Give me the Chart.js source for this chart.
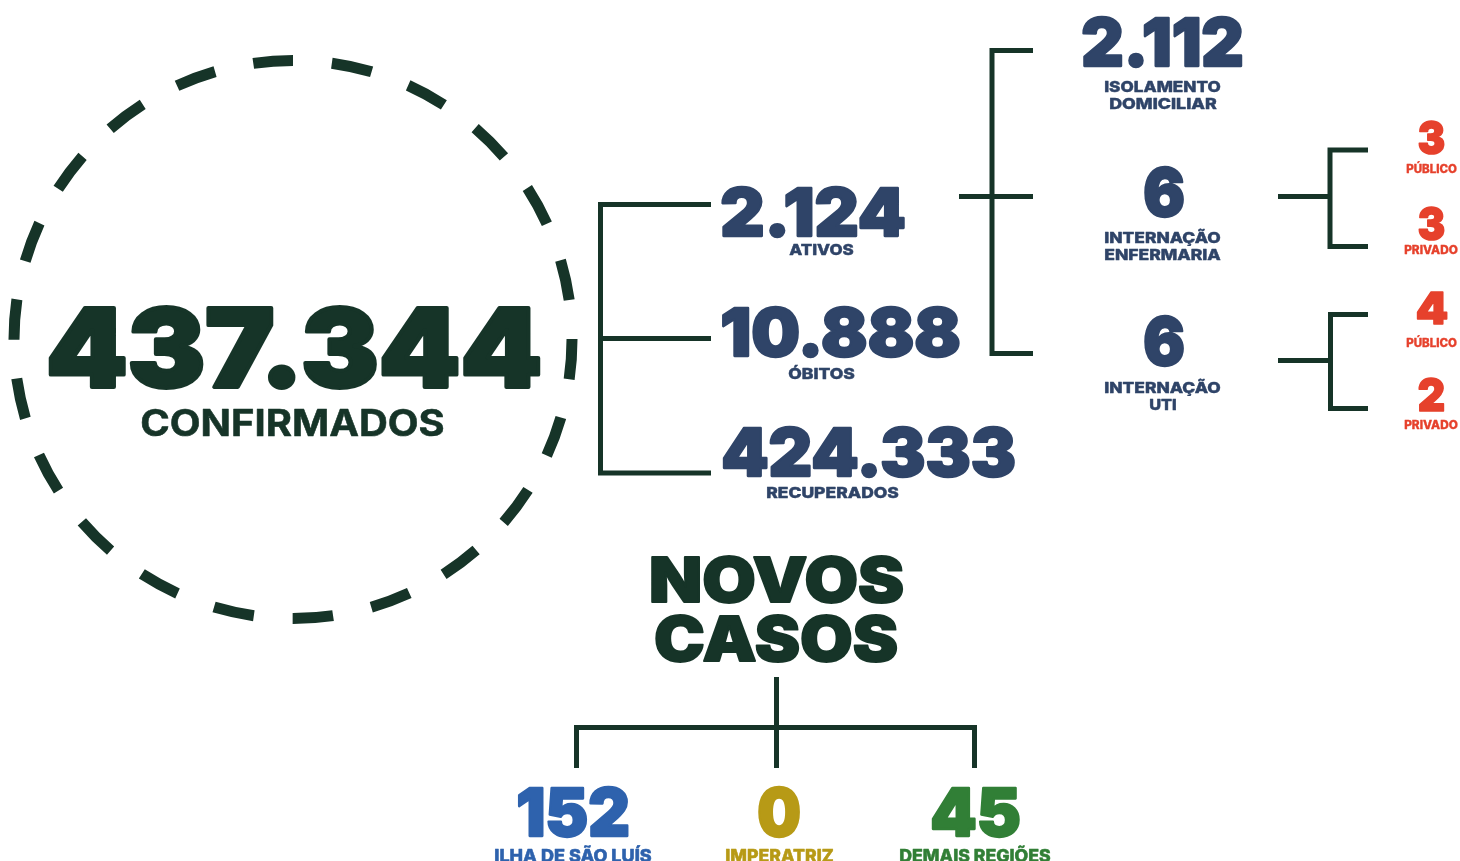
<!DOCTYPE html>
<html lang="pt-BR">
<head>
<meta charset="UTF-8">
<title>Boletim COVID-19</title>
<script src="https://cdn.jsdelivr.net/npm/chart.js"></script>
<style>
  html, body { margin: 0; padding: 0; background: #fff; }
  #wrap { width: 1460px; height: 861px; }
</style>
</head>
<body>
<div id="wrap"><canvas id="boletim" width="1460" height="861"></canvas></div>
<script>
// dados do boletim
const confirmadosLabel = 'CONFIRMADOS';
const confirmadosValue = 437344;

const statusLabels = ['ATIVOS', 'ÓBITOS', 'RECUPERADOS'];
const statusValues = [2124, 10888, 424333];

const ativosLabels = [['ISOLAMENTO', 'DOMICILIAR'], ['INTERNAÇÃO', 'ENFERMARIA'], ['INTERNAÇÃO', 'UTI']];
const ativosValues = [2112, 6, 6];

const leitosLabels = ['PÚBLICO', 'PRIVADO', 'PÚBLICO', 'PRIVADO'];
const leitosValues = [3, 3, 4, 2];

const novosTitle = ['NOVOS', 'CASOS'];
const novosLabels = ['ILHA DE SÃO LUÍS', 'IMPERATRIZ', 'DEMAIS REGIÕES'];
const novosValues = [152, 0, 45];

// layout: [centro x, linha de base y, altura das maiúsculas, largura]
const confLayout = { num: [294, 389, 83, 500], label: [292.5, 436, 27, 305] };
const statusLayout = [
  { num: [813, 237, 50, 188], label: [821.5, 255, 11, 65] },
  { num: [840.5, 357, 51, 243], label: [821.5, 379, 11, 67] },
  { num: [868.5, 477, 50, 297], label: [832.5, 498, 11, 133] }
];
const ativosLayout = [
  { num: [1162.5, 67, 51, 165], lines: [[1162.5, 92, 11, 117], [1163, 109, 11, 108]] },
  { num: [1164, 217, 51, 44], lines: [[1162.5, 243, 11, 117], [1162.5, 260, 11, 117]] },
  { num: [1164, 366, 51, 44], lines: [[1162.5, 393, 11, 117], [1163, 410, 11, 28]] }
];
const leitosLayout = [
  { num: [1431.5, 155, 35, 29], label: [1431.5, 173, 8.5, 51] },
  { num: [1431.5, 241, 35, 29], label: [1431, 254, 8.5, 54] },
  { num: [1432, 325, 34, 34], label: [1431.5, 347, 8.5, 51] },
  { num: [1431.5, 412, 35, 29], label: [1431, 429, 8.5, 54] }
];
const novosTitleLayout = [[776.5, 603, 47, 257], [776, 662, 47, 246]];
const novosLayout = [
  { num: [573, 837, 51, 116], label: [573, 862, 13, 158] },
  { num: [779, 837, 51, 46], label: [779.5, 862, 13, 109] },
  { num: [975.5, 837, 51, 93], label: [975, 862, 13, 152] }
];

// conectores da árvore
const connectors = [
  [[711, 204.5], [600.5, 204.5], [600.5, 473], [711, 473]],
  [[600.5, 338.5], [711, 338.5]],
  [[1033, 50.5], [992, 50.5], [992, 353.5], [1033, 353.5]],
  [[959, 196.5], [1033, 196.5]],
  [[1368, 150], [1330, 150], [1330, 246.5], [1368, 246.5]],
  [[1278, 196.5], [1330, 196.5]],
  [[1368, 314.5], [1330.5, 314.5], [1330.5, 408.5], [1368, 408.5]],
  [[1278, 360.5], [1330.5, 360.5]],
  [[576.5, 768], [576.5, 727.5], [974.5, 727.5], [974.5, 768]],
  [[776.5, 677], [776.5, 768]]
];
const ring = { cx: 293, cy: 339.5, r: 279, width: 11, dashes: 22 };

const DARK = '#163428';
const NAVY = '#2f4468';
const RED = '#e6412c';
const BLUE = '#2e62ad';
const GOLD = '#b79a16';
const GREEN = '#317f36';
const novosColors = [BLUE, GOLD, GREEN];
const FONT = "Inter, Lato, 'DejaVu Sans', sans-serif";

function fmt(n) {
  return String(n).replace(/\B(?=(\d{3})+(?!\d))/g, '.');
}

// boost engrossa um pouco o traço (a fonte original é mais pesada)
function drawText(chart, text, spec, color, weight, boost) {
  const ctx = chart.ctx;
  const [cx, base, cap, w] = spec;
  const px = chart.scales.x.getPixelForValue(cx);
  const py = chart.scales.y.getPixelForValue(base);
  ctx.font = `${weight} 100px ${FONT}`;
  const capRatio = ctx.measureText('H').actualBoundingBoxAscent / 100;
  const size = cap / (capRatio + boost);
  const lw = size * boost;
  ctx.font = `${weight} ${size}px ${FONT}`;
  const m = ctx.measureText(text).width;
  const sx = (w - lw) / m;
  ctx.save();
  ctx.translate(px, py - lw / 2);
  ctx.scale(sx, 1);
  ctx.fillStyle = color;
  ctx.strokeStyle = color;
  ctx.lineJoin = 'round';
  ctx.lineWidth = lw;
  ctx.textAlign = 'center';
  ctx.textBaseline = 'alphabetic';
  ctx.fillText(text, 0, 0);
  if (lw > 0) ctx.strokeText(text, 0, 0);
  ctx.restore();
}

const ringPlugin = {
  id: 'ring',
  afterDatasetsDraw(chart) {
    const ctx = chart.ctx;
    const x = chart.scales.x.getPixelForValue(ring.cx);
    const y = chart.scales.y.getPixelForValue(ring.cy);
    const period = 2 * Math.PI * ring.r / ring.dashes;
    const dash = period * 0.51;
    ctx.save();
    ctx.strokeStyle = DARK;
    ctx.lineWidth = ring.width;
    ctx.setLineDash([dash, period - dash]);
    ctx.lineDashOffset = dash;
    ctx.beginPath();
    ctx.arc(x, y, ring.r, -Math.PI / 2, Math.PI * 1.5);
    ctx.stroke();
    ctx.restore();
  }
};

const labelsPlugin = {
  id: 'labels',
  afterDatasetsDraw(chart) {
    drawText(chart, fmt(confirmadosValue), confLayout.num, DARK, 900, 0.035);
    drawText(chart, confirmadosLabel, confLayout.label, DARK, 700, 0.015);

    statusValues.forEach((v, i) => {
      drawText(chart, fmt(v), statusLayout[i].num, NAVY, 900, 0.035);
      drawText(chart, statusLabels[i], statusLayout[i].label, NAVY, 800, 0.03);
    });

    ativosValues.forEach((v, i) => {
      drawText(chart, fmt(v), ativosLayout[i].num, NAVY, 900, 0.035);
      ativosLabels[i].forEach((t, j) => drawText(chart, t, ativosLayout[i].lines[j], NAVY, 800, 0.03));
    });

    leitosValues.forEach((v, i) => {
      drawText(chart, fmt(v), leitosLayout[i].num, RED, 900, 0.035);
      drawText(chart, leitosLabels[i], leitosLayout[i].label, RED, 800, 0.03);
    });

    novosTitle.forEach((t, i) => drawText(chart, t, novosTitleLayout[i], DARK, 900, 0.03));
    novosValues.forEach((v, i) => {
      drawText(chart, fmt(v), novosLayout[i].num, novosColors[i], 900, 0.035);
      drawText(chart, novosLabels[i], novosLayout[i].label, novosColors[i], 800, 0.03);
    });
  }
};

new Chart(document.getElementById('boletim').getContext('2d'), {
  type: 'scatter',
  data: {
    datasets: connectors.map(pts => ({
      data: pts.map(([x, y]) => ({ x, y })),
      showLine: true,
      borderColor: DARK,
      borderWidth: 5,
      borderCapStyle: 'butt',
      borderJoinStyle: 'miter',
      pointRadius: 0,
      tension: 0,
      fill: false
    }))
  },
  options: {
    responsive: false,
    animation: false,
    events: [],
    layout: { padding: 0 },
    scales: {
      x: { type: 'linear', min: 0, max: 1460, display: false },
      y: { type: 'linear', min: 0, max: 861, reverse: true, display: false }
    },
    plugins: {
      legend: { display: false },
      tooltip: { enabled: false }
    }
  },
  plugins: [ringPlugin, labelsPlugin]
});
</script>
</body>
</html>
